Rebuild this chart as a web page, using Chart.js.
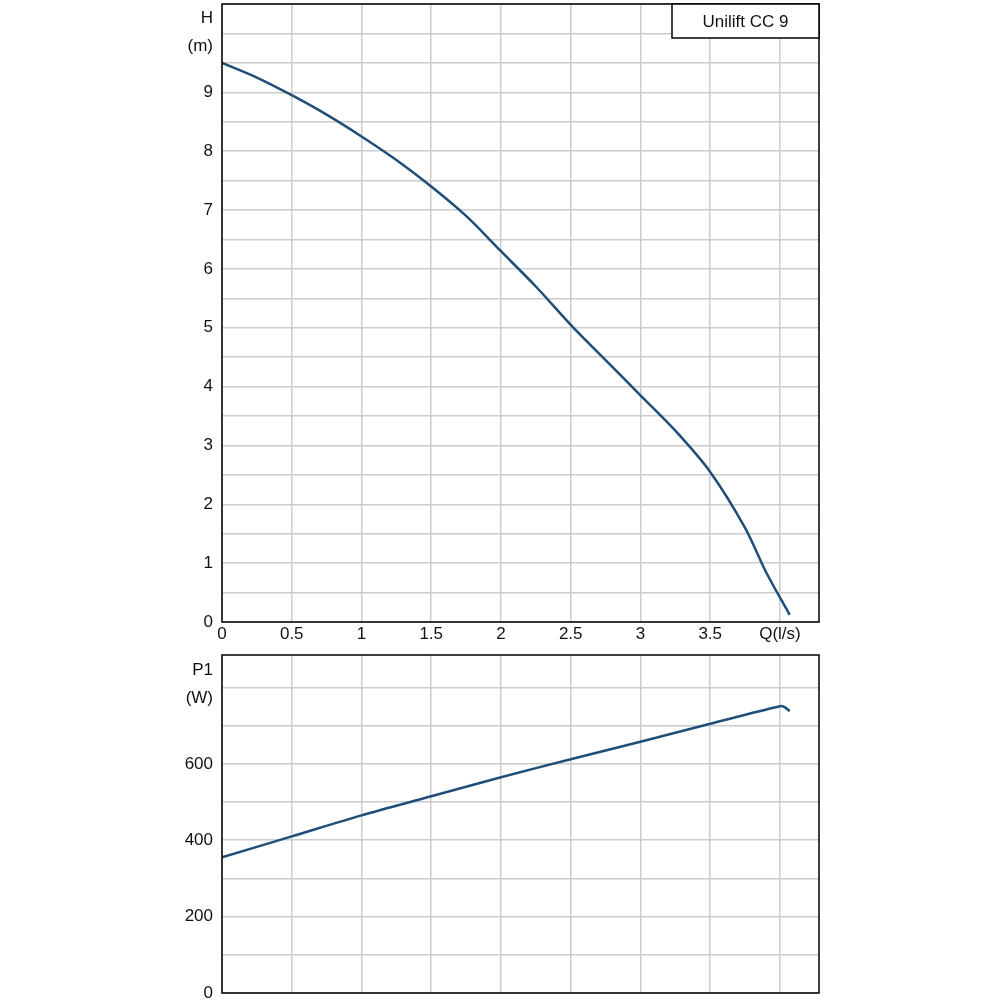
<!DOCTYPE html>
<html><head><meta charset="utf-8">
<script src="https://cdn.jsdelivr.net/npm/chart.js@4"></script>
<style>body{margin:0;background:#fff}#a,#b{position:absolute;left:0}#a{top:0}#b{top:650px}</style>
</head><body>
<div id="a" style="width:1000px;height:650px"><canvas id="c1"></canvas></div>
<div id="b" style="width:1000px;height:350px"><canvas id="c2"></canvas></div>
<script>
const qH=[0,0.25,0.5,0.75,1,1.25,1.5,1.75,2,2.25,2.5,2.75,3,3.25,3.5,3.75,3.9,4.07];
const hVals=[9.5,9.25,8.95,8.62,8.25,7.85,7.4,6.9,6.3,5.7,5.05,4.45,3.85,3.25,2.55,1.6,0.85,0.12];
const qP=[0,0.5,1,1.5,2,2.5,3,3.5,4.0,4.03,4.07];
const pVals=[355,410,465,515,565,612,658,705,751,749,738];
const xTicks=['0','0.5','1','1.5','2','2.5','3','3.5','Q(l/s)'];
const hTicks=[0,1,2,3,4,5,6,7,8,9];
const pTicks=[0,200,400,600];
const title='Unilift CC 9';
const FONT='17px "Liberation Sans", Arial, sans-serif';
const col='#1f4e79';
function frame(yt,ytitle,xlab,titleOff){return {id:'frame',afterDraw(c){const a=c.chartArea,x=c.ctx;x.save();x.strokeStyle='#000';x.lineWidth=1.5;x.strokeRect(a.left,a.top,a.right-a.left,a.bottom-a.top);
 x.font=FONT;x.fillStyle='#111';x.textAlign='right';x.textBaseline='middle';
 const ys=c.scales.y;yt.forEach(v=>x.fillText(String(v),213,ys.getPixelForValue(v)));
 x.fillText(ytitle[0],213,a.top+titleOff);x.fillText(ytitle[1],213,a.top+titleOff+28);
 if(xlab){const xs=c.scales.x;x.textAlign='center';x.textBaseline='top';xTicks.forEach((t,i)=>x.fillText(t,xs.getPixelForValue(i*0.5)+(i===8?0:0),a.bottom+4));
  x.fillStyle='#fff';x.fillRect(672,a.top,a.right-672,34);x.strokeRect(672,a.top,a.right-672,34);x.fillStyle='#111';x.textAlign='center';x.textBaseline='middle';x.fillText(title,(672+a.right)/2,a.top+18);}
 x.restore();}};}
function mk(id,xs,ys,ymax,ystep,yt,ytitle,top,bottom,xlab,off){
 return new Chart(document.getElementById(id),{type:'line',
 data:{datasets:[{data:xs.map((q,i)=>({x:q,y:ys[i]})),borderColor:col,borderWidth:2.5,pointRadius:0,tension:0.3}]},
 options:{responsive:true,maintainAspectRatio:false,animation:false,plugins:{legend:{display:false},tooltip:{enabled:false}},
 layout:{padding:{top:top,right:181,left:0,bottom:bottom}},
 scales:{
  x:{type:'linear',min:0,max:4.28,border:{display:false},grid:{color:'#cccccc',lineWidth:1.5,drawTicks:false},
   ticks:{display:false,stepSize:0.5,autoSkip:false,includeBounds:false},afterFit:s=>{s.height=0;}},
  y:{min:0,max:ymax,border:{display:false},grid:{color:'#cccccc',lineWidth:1.5,drawTicks:false},
   ticks:{display:false,stepSize:ystep,autoSkip:false,includeBounds:false},afterFit:s=>{s.width=222;}}}},plugins:[frame(yt,ytitle,xlab,off)]});}
mk('c1',qH,hVals,10.5,0.5,hTicks,['H','(m)'],4,28,true,14);
mk('c2',qP,pVals,885,100,pTicks,['P1','(W)'],5,7,false,15);
</script></body></html>
